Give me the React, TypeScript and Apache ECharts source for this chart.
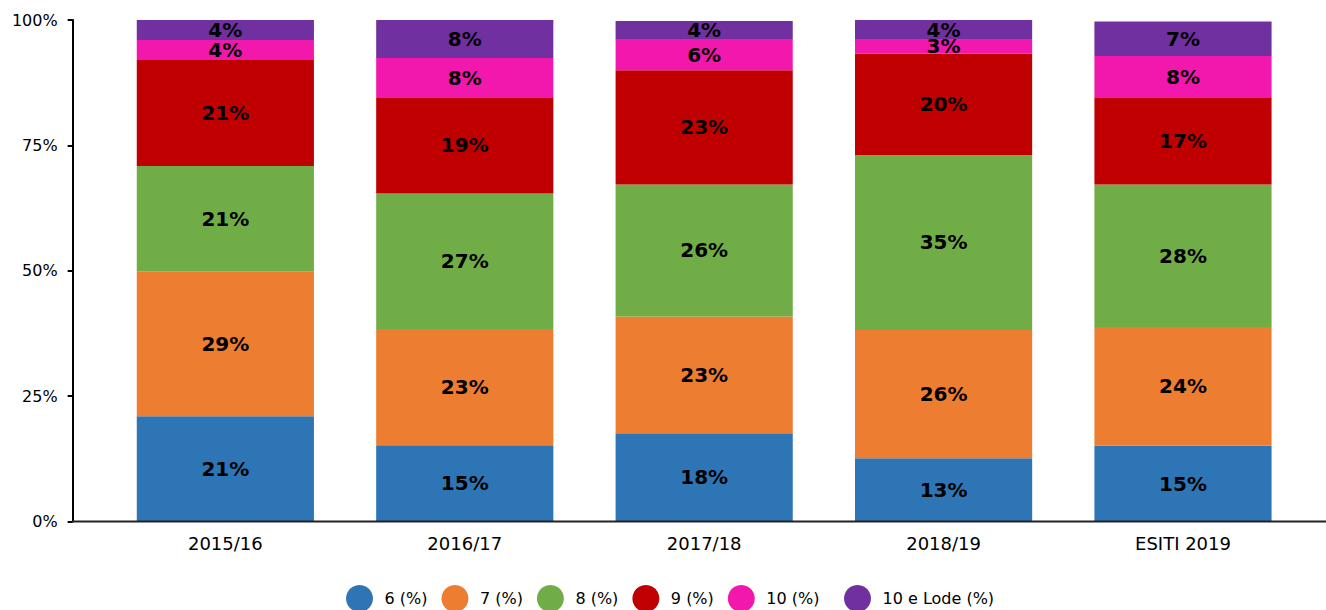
import React, { useEffect, useRef } from "react";
import * as echarts from "echarts";

const categories = ["2015/16", "2016/17", "2017/18", "2018/19", "ESITI 2019"];
const seriesNames = ["6 (%)", "7 (%)", "8 (%)", "9 (%)", "10 (%)", "10 e Lode (%)"];
const v6 = [21.0, 15.2, 17.6, 12.6, 15.1];
const v7 = [28.9, 23.2, 23.3, 25.6, 23.7];
const v8 = [21.0, 27.0, 26.3, 34.9, 28.4];
const v9 = [21.1, 19.2, 22.8, 20.2, 17.4];
const v10 = [4.0, 7.8, 6.2, 2.9, 8.2];
const v10L = [4.0, 7.6, 3.6, 3.8, 6.9];
const yTicks = [0, 25, 50, 75, 100];
const colors = ["#2E75B6", "#ED7D31", "#70AD47", "#C00000", "#F218AE", "#7030A0"];

const seriesValues = [v6, v7, v8, v9, v10, v10L];

export default function App() {
  const ref = useRef<HTMLDivElement>(null);
  useEffect(() => {
    if (!ref.current) return;
    const chart = echarts.init(ref.current, null, { renderer: "svg" });
    const font = "DejaVu Sans";
    const legendBase = {
      top: 580,
      icon: "circle",
      itemWidth: 40,
      itemHeight: 27,
      itemGap: 14,
      textStyle: { fontFamily: font, fontSize: 16, color: "#000" },
    };
    chart.setOption({
      animation: false,
      color: colors,
      textStyle: { fontFamily: font },
      grid: { left: 105.65, right: 23.3, top: 20, bottom: 88.5 },
      legend: [
        { ...legendBase, data: seriesNames.slice(0, 5), left: 341 },
        { ...legendBase, data: seriesNames.slice(5), left: 839 },
      ],
      xAxis: {
        type: "category",
        data: categories,
        axisLine: { show: false },
        axisTick: { show: false },
        axisLabel: { fontFamily: font, fontSize: 18, color: "#000", margin: 13 },
      },
      yAxis: {
        type: "value",
        min: yTicks[0],
        max: yTicks[yTicks.length - 1],
        interval: 25,
        offset: 33,
        splitLine: { show: false },
        axisLine: { show: true, lineStyle: { color: "#000", width: 2 } },
        axisTick: { show: true, length: 5, lineStyle: { color: "#000", width: 2 } },
        axisLabel: {
          fontFamily: font,
          fontSize: 16,
          color: "#000",
          margin: 15,
          formatter: "{value}%",
        },
      },
      graphic: [
        {
          type: "line",
          z: 100,
          shape: { x1: 72, y1: 521.5, x2: 1326, y2: 521.5 },
          style: { stroke: "#222", lineWidth: 2 },
        },
      ],
      series: seriesNames.map((name, i) => ({
        name,
        type: "bar",
        stack: "total",
        barWidth: "74%",
        data: seriesValues[i],
        itemStyle: { color: colors[i] },
        label: {
          show: true,
          position: "inside",
          color: "#000",
          fontFamily: font,
          fontWeight: "bold",
          fontSize: 20,
          formatter: (p: any) => Math.round(p.value) + "%",
        },
      })),
    });
    return () => chart.dispose();
  }, []);
  return (
    <div
      ref={ref}
      style={{ position: "fixed", left: 0, top: 0, width: 1326, height: 610, background: "#fff" }}
    />
  );
}
